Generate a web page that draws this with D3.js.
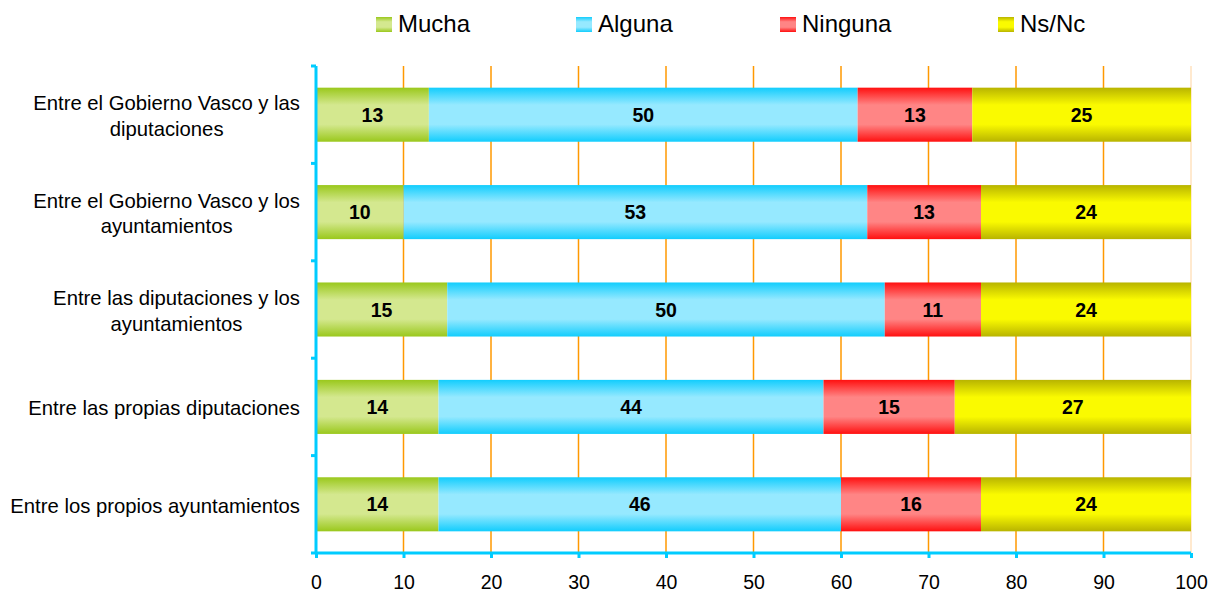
<!DOCTYPE html>
<html lang="es">
<head>
<meta charset="utf-8">
<title>Colaboración entre instituciones</title>
<script src="https://cdnjs.cloudflare.com/ajax/libs/d3/7.8.5/d3.min.js"></script>
<style>
  body { margin: 0; background: #fff; }
  svg text { font-family: "Liberation Sans", Arial, sans-serif; fill: #000; }
</style>
</head>
<body>
<div id="chart"></div>
<script>
// data
const categories = [
  ["Entre el Gobierno Vasco y las", "diputaciones"],
  ["Entre el Gobierno Vasco y los", "ayuntamientos"],
  ["Entre las diputaciones y los", "ayuntamientos"],
  ["Entre las propias diputaciones"],
  ["Entre los propios ayuntamientos"]
];
const seriesNames = ["Mucha", "Alguna", "Ninguna", "Ns/Nc"];
// segment lengths as drawn (percent)
const mucha   = [12.9, 10, 15, 14, 14];
const alguna  = [49.0, 53, 50, 44, 46];
const ninguna = [13.1, 13, 11, 15, 16];
const nsnc    = [25.0, 24, 24, 27, 24];
// numbers printed on the bars
const muchaLabels   = [13, 10, 15, 14, 14];
const algunaLabels  = [50, 53, 50, 44, 46];
const ningunaLabels = [13, 13, 11, 15, 16];
const nsncLabels    = [25, 24, 24, 27, 24];
const xTicks = [0, 10, 20, 30, 40, 50, 60, 70, 80, 90, 100];

// colours: [edge, middle] of each bar gradient
const colors = [
  ["#9ac81c", "#d4e88f"],
  ["#12cdfd", "#96e9ff"],
  ["#ff1010", "#ff8585"],
  ["#b8b400", "#fafa00"]
];

const w = 1211, h = 592;
const pLeft = 316, pRight = 1191, pTop = 66, pBottom = 553;

const rows = categories.map((c, i) => ({
  key: i, Mucha: mucha[i], Alguna: alguna[i], Ninguna: ninguna[i], "Ns/Nc": nsnc[i]
}));
const labels = {Mucha: muchaLabels, Alguna: algunaLabels, Ninguna: ningunaLabels, "Ns/Nc": nsncLabels};
const stacked = d3.stack().keys(seriesNames)(rows);

const x = d3.scaleLinear().domain([0, 100]).range([pLeft, pRight]);
const y = d3.scaleBand().domain(d3.range(categories.length)).range([pTop, pBottom]).paddingInner(0.445).paddingOuter(0.2225);
const yb = d3.scaleBand().domain(d3.range(categories.length)).range([pTop, pBottom]);

const svg = d3.select("#chart").append("svg").attr("width", w).attr("height", h);

const defs = svg.append("defs");
colors.forEach((c, i) => {
  const g = defs.append("linearGradient").attr("id", "g" + i)
    .attr("x1", 0).attr("y1", 0).attr("x2", 0).attr("y2", 1);
  g.append("stop").attr("offset", "0%").attr("stop-color", c[0]);
  g.append("stop").attr("offset", "32%").attr("stop-color", c[1]);
  g.append("stop").attr("offset", "68%").attr("stop-color", c[1]);
  g.append("stop").attr("offset", "100%").attr("stop-color", c[0]);
});

// gridlines
svg.append("g").selectAll("line").data(xTicks.slice(1)).enter().append("line")
  .attr("x1", d => x(d)).attr("x2", d => x(d))
  .attr("y1", pTop).attr("y2", pBottom)
  .attr("stroke", d => d === 100 ? "#ffe2bf" : "#ff9900")
  .attr("stroke-width", 1.5);

// bars
const layer = svg.append("g").selectAll("g").data(stacked).enter().append("g")
  .attr("fill", (d, i) => "url(#g" + i + ")");
layer.selectAll("rect").data(d => d).enter().append("rect")
  .attr("x", d => x(d[0]))
  .attr("width", d => x(d[1]) - x(d[0]))
  .attr("y", (d, i) => y(i))
  .attr("height", y.bandwidth());

// value labels
stacked.forEach(s => {
  svg.append("g").selectAll("text").data(s).enter().append("text")
    .attr("x", d => (x(d[0]) + x(d[1])) / 2)
    .attr("y", (d, i) => y(i) + y.bandwidth() / 2)
    .attr("dy", "0.36em")
    .attr("text-anchor", "middle")
    .style("font-size", "19.5px")
    .style("font-weight", "bold")
    .text((d, i) => labels[s.key][i]);
});

// axes
const axisColor = "#00ccff";
const xAxis = svg.append("g").attr("transform", "translate(0," + pBottom + ")")
  .call(d3.axisBottom(x).tickValues(xTicks).tickSize(5).tickPadding(17));
xAxis.select(".domain").attr("stroke", axisColor).attr("stroke-width", 3)
  .attr("d", "M" + pLeft + ",0H" + pRight);
xAxis.selectAll(".tick line").attr("stroke", axisColor).attr("stroke-width", 3);
xAxis.selectAll(".tick text").style("font-size", "19.5px").attr("fill", "#000");

const yAxis = svg.append("g").attr("transform", "translate(" + pLeft + ",0)");
yAxis.append("line").attr("x1", 0).attr("x2", 0).attr("y1", pTop).attr("y2", pBottom)
  .attr("stroke", axisColor).attr("stroke-width", 3);
yAxis.selectAll("line.t").data(d3.range(categories.length + 1)).enter().append("line")
  .attr("class", "t")
  .attr("x1", -5).attr("x2", 0)
  .attr("y1", d => pTop + d * yb.step()).attr("y2", d => pTop + d * yb.step())
  .attr("stroke", axisColor).attr("stroke-width", 3);

// category labels
categories.forEach((lines, i) => {
  const t = svg.append("text").attr("text-anchor", "middle").style("font-size", "20.3px");
  const cy = yb(i) + yb.step() / 2 + 1;
  lines.forEach((l, j) => {
    t.append("tspan").attr("x", 0)
      .attr("y", cy + (j - (lines.length - 1) / 2) * 25.6)
      .attr("dy", "0.36em").text(l);
  });
  const bw = t.node().getBBox().width;
  t.selectAll("tspan").attr("x", 300 - bw / 2);
});

// legend
const legendX = [376, 576, 780, 998];
const legend = svg.append("g").selectAll("g").data(seriesNames).enter().append("g")
  .attr("transform", (d, i) => "translate(" + legendX[i] + ",17)");
legend.append("rect").attr("width", 16).attr("height", 15)
  .attr("fill", (d, i) => "url(#g" + i + ")");
legend.append("text").attr("x", 22).attr("y", 15)
  .style("font-size", "24px").text(d => d);
</script>
</body>
</html>
